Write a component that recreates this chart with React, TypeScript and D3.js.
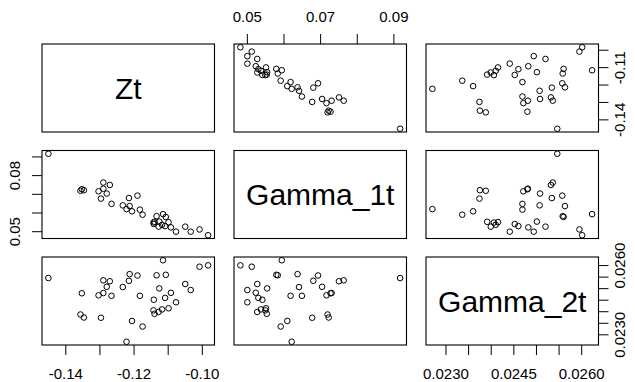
import React from "react";
import * as d3 from "d3";

// variable names on the diagonal
const varNames = ["Zt", "Gamma_1t", "Gamma_2t"];

const zt = [
  -0.0983, -0.1008, -0.1034, -0.105, -0.1077, -0.1092, -0.1109, -0.1099, -0.1115,
  -0.1175, -0.1107, -0.1134, -0.1142, -0.1126, -0.1118, -0.1128, -0.114, -0.1143,
  -0.1183, -0.119, -0.1206, -0.1213, -0.1215, -0.1222, -0.1233, -0.1266, -0.1271,
  -0.128, -0.129, -0.129, -0.1297, -0.1304, -0.1347, -0.1357, -0.1353, -0.1451,
];
const gamma1 = [
  0.0481, 0.0512, 0.05, 0.0527, 0.05, 0.0523, 0.053, 0.0551, 0.0594,
  0.0591, 0.0579, 0.0583, 0.0541, 0.0554, 0.0537, 0.0527, 0.0553, 0.0549,
  0.0618, 0.0693, 0.0609, 0.0637, 0.068, 0.0621, 0.0641, 0.0649, 0.075,
  0.0704, 0.073, 0.0763, 0.0677, 0.0716, 0.0722, 0.0719, 0.0727, 0.0917,
];
const gamma2 = [
  0.02601, 0.02595, 0.02494, 0.0252, 0.02441, 0.02482, 0.0246, 0.02415, 0.02623,
  0.02336, 0.0256, 0.02558, 0.02452, 0.02501, 0.0241, 0.02399, 0.02391, 0.02406,
  0.02469, 0.02557, 0.0236, 0.02563, 0.02534, 0.0227, 0.02507, 0.02469, 0.02532,
  0.02508, 0.02481, 0.02536, 0.02374, 0.02471, 0.02375, 0.02388, 0.0248, 0.02546,
];

// ticks and the labels R kept on each axis
const ztTicks = [-0.14, -0.13, -0.12, -0.11, -0.1];
const ztBottomLabels = ["-0.14", "-0.12", "-0.10"];
const ztRightLabels = ["-0.11", "-0.14"];
const g1Ticks = [0.05, 0.06, 0.07, 0.08, 0.09];
const g1TopLabels = ["0.05", "0.07", "0.09"];
const g1LeftLabels = ["0.05", "0.08"];
const g2Ticks = [0.023, 0.0235, 0.024, 0.0245, 0.025, 0.0255, 0.026];
const g2BottomLabels = ["0.0230", "0.0245", "0.0260"];
const g2RightLabels = ["0.0230", "0.0260"];

const columns = [zt, gamma1, gamma2];
const tickSets = [ztTicks, g1Ticks, g2Ticks];
const digits = [2, 2, 4];

const W = 635;
const H = 382;
const left = 42;
const top = 44;
const pw = 172.5;
const ph = 88;
const gapX = 19.5;
const gapY = 18.5;
const font = "'Liberation Sans', Arial, sans-serif";

const padDomain = (v: number[]) => {
  const [lo, hi] = d3.extent(v) as [number, number];
  const p = (hi - lo) * 0.04;
  return [lo - p, hi + p];
};

export default function App() {
  const x0 = (j: number) => left + j * (pw + gapX);
  const y0 = (i: number) => top + i * (ph + gapY);

  const xScales = columns.map((c, j) =>
    d3.scaleLinear().domain(padDomain(c)).range([x0(j), x0(j) + pw])
  );
  const yScales = columns.map((c, i) =>
    d3.scaleLinear().domain(padDomain(c)).range([y0(i) + ph, y0(i)])
  );

  const tick = 10;
  const txt = { fontFamily: font, fontSize: 15, fill: "#000" };

  const hAxis = (k: number, y: number, side: "top" | "bottom", shown: string[]) => {
    const s = xScales[k];
    return tickSets[k].map((t, n) => {
      const x = s(t);
      const lab = t.toFixed(digits[k]);
      return (
        <g key={`h${k}${side}${n}`}>
          <line x1={x} x2={x} y1={y} y2={side === "top" ? y - tick : y + tick} stroke="#000" />
          {shown.includes(lab) && (
            <text x={x} y={side === "top" ? y - 22 : y + 34} textAnchor="middle" {...txt}>
              {lab}
            </text>
          )}
        </g>
      );
    });
  };

  const vAxis = (k: number, x: number, side: "left" | "right", shown: string[]) => {
    const s = yScales[k];
    return tickSets[k].map((t, n) => {
      const y = s(t);
      const lab = t.toFixed(digits[k]);
      const bx = side === "left" ? x - 22 : x + 26;
      return (
        <g key={`v${k}${side}${n}`}>
          <line x1={x} x2={side === "left" ? x - tick : x + tick} y1={y} y2={y} stroke="#000" />
          {shown.includes(lab) && (
            <text
              transform={`translate(${bx},${y}) rotate(-90)`}
              textAnchor="middle"
              {...txt}
            >
              {lab}
            </text>
          )}
        </g>
      );
    });
  };

  const panels = [];
  for (let i = 0; i < 3; i++) {
    for (let j = 0; j < 3; j++) {
      const px = x0(j);
      const py = y0(i);
      panels.push(
        <g key={`p${i}${j}`}>
          {i === j ? (
            <text
              x={px + pw / 2}
              y={py + ph / 2}
              textAnchor="middle"
              dominantBaseline="central"
              fontFamily={font}
              fontSize={30}
            >
              {varNames[i]}
            </text>
          ) : (
            columns[j].map((v, n) => (
              <circle
                key={n}
                cx={xScales[j](v)}
                cy={yScales[i](columns[i][n])}
                r={2.8}
                fill="none"
                stroke="#000"
                strokeWidth={1}
              />
            ))
          )}
          <rect x={px} y={py} width={pw} height={ph} fill="none" stroke="#000" strokeWidth={1.1} />
        </g>
      );
    }
  }

  return (
    <div style={{ position: "fixed", left: 0, top: 0 }}>
      <svg width={W} height={H} style={{ display: "block", background: "#fff" }}>
        {panels}
        {hAxis(1, y0(0), "top", g1TopLabels)}
        {hAxis(0, y0(2) + ph, "bottom", ztBottomLabels)}
        {hAxis(2, y0(2) + ph, "bottom", g2BottomLabels)}
        {vAxis(1, x0(0), "left", g1LeftLabels)}
        {vAxis(0, x0(2) + pw, "right", ztRightLabels)}
        {vAxis(2, x0(2) + pw, "right", g2RightLabels)}
      </svg>
    </div>
  );
}
